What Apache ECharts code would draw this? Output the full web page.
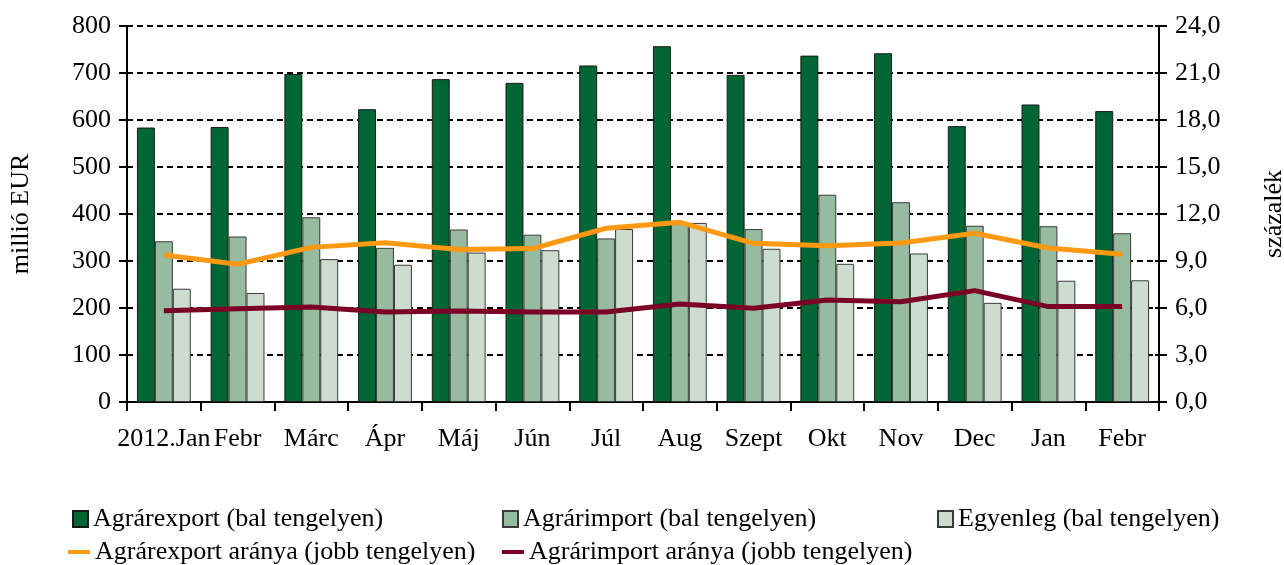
<!DOCTYPE html>
<html><head><meta charset="utf-8">
<script src="https://cdn.jsdelivr.net/npm/echarts@6/dist/echarts.min.js"></script>
<style>html,body{margin:0;padding:0;background:#fff}#c{width:1284px;height:565px}</style>
</head><body><div id="c"></div>
<script>
const categories = ['2012.Jan','Febr','Márc','Ápr','Máj','Jún','Júl','Aug','Szept','Okt','Nov','Dec','Jan','Febr'];
const agrarExport = [584, 585, 698, 623, 687, 679, 716, 757, 696, 737, 742, 587, 633, 619];
const agrarImport = [342, 352, 393, 328, 367, 356, 348, 381, 368, 441, 425, 375, 374, 359];
const egyenleg    = [241, 232, 304, 292, 318, 323, 368, 381, 326, 294, 316, 211, 258, 259];
const exportArany = [9.38, 8.79, 9.87, 10.17, 9.74, 9.79, 11.09, 11.47, 10.13, 9.98, 10.15, 10.77, 9.83, 9.43];
const importArany = [5.83, 5.96, 6.06, 5.74, 5.81, 5.74, 5.74, 6.26, 5.98, 6.51, 6.40, 7.11, 6.09, 6.09];
const leftTicks = {min: 0, max: 800, interval: 100};
const rightTicks = {min: 0, max: 24, interval: 3};

const FONT = 'Liberation Serif';
const chart = echarts.init(document.getElementById('c'), null, {renderer: 'canvas'});
const txt = {fontFamily: FONT, fontSize: 26, color: '#000'};
const legTxt = {fontFamily: FONT, fontSize: 26, color: '#000'};
function leg(name, left, top, icon, w, h, pad) {
  return {data: [{name: name, icon: icon}], left: left, top: top, itemWidth: w, itemHeight: h,
    orient: 'horizontal', textStyle: Object.assign({padding: [0, 0, 0, pad]}, legTxt), selectedMode: false};
}
chart.setOption({
  animation: false,
  grid: {left: 127, right: 125, top: 26, bottom: 163, containLabel: false, outerBoundsMode: 'none'},
  legend: [
    leg('Agrárexport (bal tengelyen)', 67, 501, 'rect', 15, 16, 0),
    leg('Agrárimport (bal tengelyen)', 497, 501, 'rect', 15, 16, 0),
    leg('Egyenleg (bal tengelyen)', 932, 501, 'rect', 15, 16, 0),
    leg('Agrárexport aránya (jobb tengelyen)', 63, 534, 'rect', 22, 4, 0),
    leg('Agrárimport aránya (jobb tengelyen)', 497, 534, 'rect', 22, 4, 0)
  ],
  xAxis: {
    type: 'category', data: categories, boundaryGap: true,
    axisLine: {lineStyle: {color: '#000', width: 2}},
    axisTick: {show: true, length: 9, lineStyle: {color: '#000', width: 2}},
    axisLabel: Object.assign({margin: 24, interval: 0}, txt),
    splitLine: {show: false}
  },
  yAxis: [
    {type: 'value', min: leftTicks.min, max: leftTicks.max, interval: leftTicks.interval,
     name: 'millió EUR', nameLocation: 'middle', nameGap: 93, nameRotate: 90, nameTextStyle: txt,
     axisLine: {show: true, lineStyle: {color: '#000', width: 2}},
     axisTick: {show: true, length: 8, lineStyle: {color: '#000', width: 2}},
     axisLabel: Object.assign({margin: 16}, txt),
     splitLine: {show: true, lineStyle: {color: '#000', width: 2, type: [6, 4]}}},
    {type: 'value', min: rightTicks.min, max: rightTicks.max, interval: rightTicks.interval, position: 'right',
     name: 'százalék', nameLocation: 'middle', nameGap: 102, nameRotate: 90, nameTextStyle: txt,
     axisLine: {show: true, lineStyle: {color: '#000', width: 2}},
     axisTick: {show: true, length: 8, lineStyle: {color: '#000', width: 2}},
     axisLabel: Object.assign({margin: 16, formatter: v => v.toFixed(1).replace('.', ',')}, txt),
     splitLine: {show: false}},
    {type: 'value', min: leftTicks.min, max: leftTicks.max, interval: leftTicks.interval, position: 'left',
     axisLine: {show: false}, axisLabel: {show: false}, splitLine: {show: false},
     axisTick: {show: true, inside: true, length: 4, lineStyle: {color: '#000', width: 2}}},
    {type: 'value', min: rightTicks.min, max: rightTicks.max, interval: rightTicks.interval, position: 'right',
     axisLine: {show: false}, axisLabel: {show: false}, splitLine: {show: false},
     axisTick: {show: true, inside: true, length: 4, lineStyle: {color: '#000', width: 2}}}
  ],
  series: [
    {name: 'Agrárexport (bal tengelyen)', type: 'bar', data: agrarExport, barGap: '0%', barCategoryGap: '27%',
     itemStyle: {color: '#006633', borderColor: '#1a1a1a', borderWidth: 1}},
    {name: 'Agrárimport (bal tengelyen)', type: 'bar', data: agrarImport,
     itemStyle: {color: '#96BB9E', borderColor: '#3a3a3a', borderWidth: 1}},
    {name: 'Egyenleg (bal tengelyen)', type: 'bar', data: egyenleg,
     itemStyle: {color: '#CCDDD0', borderColor: '#3a3a3a', borderWidth: 1}},
    {name: 'Agrárexport aránya (jobb tengelyen)', type: 'line', yAxisIndex: 1, data: exportArany,
     symbol: 'none', lineStyle: {color: '#FF9912', width: 5}, itemStyle: {color: '#FF9912'}, z: 5},
    {name: 'Agrárimport aránya (jobb tengelyen)', type: 'line', yAxisIndex: 1, data: importArany,
     symbol: 'none', lineStyle: {color: '#7B0026', width: 5}, itemStyle: {color: '#7B0026'}, z: 5}
  ]
});
</script></body></html>
